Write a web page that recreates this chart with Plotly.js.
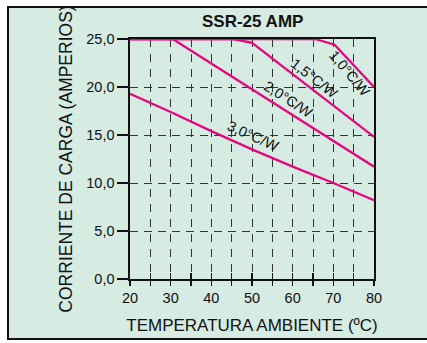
<!DOCTYPE html>
<html>
<head>
<meta charset="utf-8">
<script src="https://cdn.plot.ly/plotly-3.0.1.min.js"></script>
<style>html,body{margin:0;padding:0;background:#fff;}#chart{width:427px;height:343px;}</style>
</head>
<body>
<div id="chart"></div>
<script>
// ---- data ----
const temp10 = [20, 65.5, 70.3, 80];
const curr10 = [25, 25, 24.4, 20.0];
const temp15 = [20, 45.4, 50, 80];
const curr15 = [25, 25, 24.6, 14.8];
const temp20 = [20, 30.5, 80];
const curr20 = [25, 25, 11.7];
const temp30 = [20, 30, 40, 50, 60, 70, 80];
const curr30 = [19.3, 17.4, 15.4, 13.5, 11.7, 10.0, 8.2];

const seriesLabels = ["1,0°C/W", "1,5°C/W", "2,0°C/W", "3,0°C/W"];
const labelX = [74.0, 65.2, 58.8, 50.3];
const labelY = [21.5, 20.9, 18.7, 14.9];
const labelAngle = [50, 38, 33, 24];

const xTickVals = [20, 25, 30, 35, 40, 45, 50, 55, 60, 65, 70, 75, 80];
const xTickText = ["20", "", "30", "", "40", "", "50", "", "60", "", "70", "", "80"];
const yTickVals = [0, 5, 10, 15, 20, 25];
const yTickText = ["0,0", "5,0", "10,0", "15,0", "20,0", "25,0"];

const chartTitle = "SSR-25 AMP";
const xTitle = "TEMPERATURA AMBIENTE (ºC)";
const yTitle = "CORRIENTE DE CARGA (AMPERIOS)";

// ---- styles ----
const pink = "#e5077f";
const lineStyle = {color: pink, width: 2.3};
const series = [[temp10, curr10], [temp15, curr15], [temp20, curr20], [temp30, curr30]];
const traces = series.map((s, i) => ({
  x: s[0], y: s[1], type: "scatter", mode: "lines",
  line: lineStyle, hoverinfo: "skip", showlegend: false, cliponaxis: false
}));
// empty trace to create overlay axis for inner ticks
traces.push({x: [], y: [], xaxis: "x2", yaxis: "y", type: "scatter", mode: "lines", showlegend: false});

const font = {family: "Liberation Sans, Arial, sans-serif", color: "#111"};
const annotations = seriesLabels.map((t, i) => ({
  x: labelX[i], y: labelY[i], xref: "x", yref: "y", text: t, showarrow: false,
  textangle: labelAngle[i], font: Object.assign({}, font, {size: 14.5})
}));
annotations.push({
  text: "<b>" + chartTitle + "</b>", xref: "paper", yref: "paper", x: 0.5, y: 1.075,
  xanchor: "center", yanchor: "middle", showarrow: false,
  font: Object.assign({}, font, {size: 17})
});

const layout = {
  width: 427, height: 343,
  margin: {l: 130, r: 53, t: 39, b: 64},
  paper_bgcolor: "#ffffff",
  plot_bgcolor: "rgba(0,0,0,0)",
  font: font,
  showlegend: false,
  xaxis: {
    range: [20, 80], tickvals: xTickVals, ticktext: xTickText,
    ticks: "outside", ticklen: 5, tickwidth: 1.3, tickcolor: "#111",
    showline: true, linewidth: 1.6, linecolor: "#111", mirror: true,
    showgrid: true, gridcolor: "#333", gridwidth: 1, griddash: "8px,7px",
    zeroline: false, tickfont: Object.assign({}, font, {size: 14.5}),
    title: {text: xTitle, font: Object.assign({}, font, {size: 17}), standoff: 14},
    fixedrange: true
  },
  xaxis2: {
    overlaying: "x", anchor: "y", side: "bottom", range: [20, 80], tickvals: xTickVals,
    showticklabels: false, ticks: "inside", ticklen: 6, tickwidth: 1.3, tickcolor: "#111",
    showline: false, showgrid: false, zeroline: false, fixedrange: true
  },
  yaxis: {
    range: [0, 25], tickvals: yTickVals, ticktext: yTickText,
    ticks: "outside", ticklen: 11, tickwidth: 1.3, tickcolor: "#111",
    showline: true, linewidth: 1.6, linecolor: "#111", mirror: true,
    showgrid: true, gridcolor: "#333", gridwidth: 1, griddash: "8px,6px",
    zeroline: false, tickfont: Object.assign({}, font, {size: 14.5}),
    title: {text: yTitle, font: Object.assign({}, font, {size: 17.5}), standoff: 9},
    fixedrange: true
  },
  shapes: [{
    type: "rect", xref: "paper", yref: "paper", layer: "below",
    x0: -0.5, x1: 1.25, y0: -0.25, y1: 1.133,
    fillcolor: "#d6ebe2", line: {color: "#111", width: 2}
  }],
  annotations: annotations
};

Plotly.newPlot("chart", traces, layout, {staticPlot: true, displayModeBar: false});
</script>
</body>
</html>
